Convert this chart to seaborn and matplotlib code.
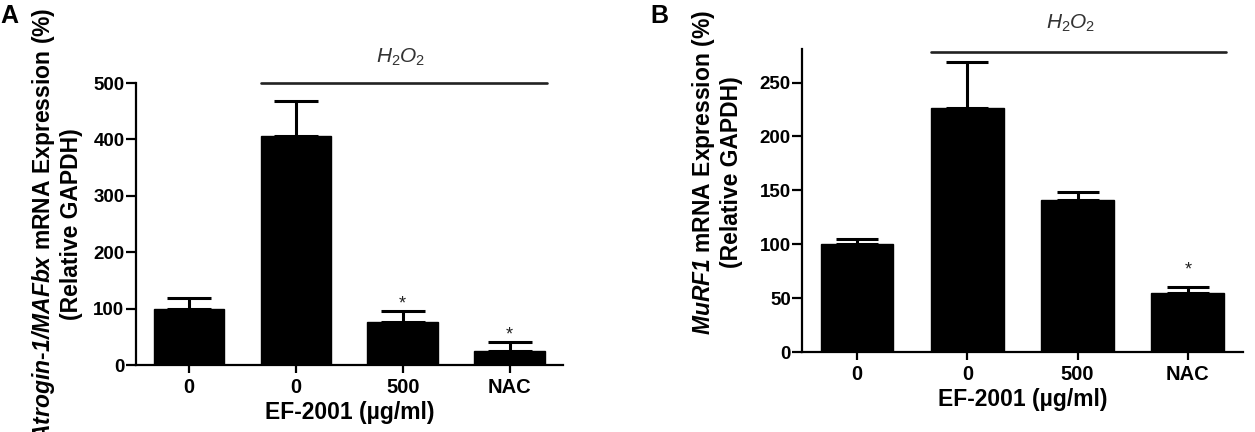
import matplotlib
matplotlib.use("Agg")
import matplotlib.pyplot as plt
import seaborn as sns
import numpy as np
import pandas as pd

# ---- data ----
groups = ["ctrl", "H2O2", "EF500", "NAC"]
tick_labels = ["0", "0", "500", "NAC"]
atrogin_mean = [100, 406, 77, 25]
atrogin_sem = [19, 62, 19, 16]
atrogin_sig = [False, False, True, True]
murf1_mean = [100, 226, 141, 55]
murf1_sem = [5, 43, 7, 5]
murf1_sig = [False, False, False, True]

sns.set_theme(style="ticks")
plt.rcParams['font.family'] = ['Liberation Sans', 'DejaVu Sans']
plt.rcParams['font.weight'] = 'bold'
plt.rcParams['axes.labelweight'] = 'bold'
plt.rcParams['text.color'] = 'black'
plt.rcParams['axes.labelcolor'] = 'black'
plt.rcParams['xtick.color'] = 'black'
plt.rcParams['ytick.color'] = 'black'
plt.rcParams['mathtext.fontset'] = 'custom'
plt.rcParams['mathtext.rm'] = 'Liberation Sans:weight=regular'
plt.rcParams['mathtext.it'] = 'Liberation Sans:style=italic:weight=regular'
plt.rcParams['mathtext.bf'] = 'Liberation Sans:weight=bold'
plt.rcParams['mathtext.bfit'] = 'Liberation Sans:style=italic:weight=bold'

fig = plt.figure(figsize=(12.55, 4.32), dpi=100)
axA = fig.add_axes([0.108, 0.155, 0.3406, 0.6528])
axB = fig.add_axes([0.639, 0.185, 0.3514, 0.7014])

def panel(ax, means, sems, sig, ylim, yticks, ylabel, line_y, text_x, text_y,
          star_off, capsize, label_xy):
    df = pd.DataFrame({"group": groups, "value": means})
    sns.barplot(data=df, x="group", y="value", order=groups, color="black",
                width=0.66, errorbar=None, ax=ax, saturation=1)
    for p in ax.patches:
        p.set_edgecolor("black")
    x = np.arange(len(groups))
    ax.errorbar(x, means, yerr=[np.zeros(len(means)), sems], fmt="none",
                ecolor="black", elinewidth=2.2, capsize=capsize, capthick=2.2, zorder=1)
    for xi, m, s, g in zip(x, means, sems, sig):
        if g:
            ax.text(xi, m + s + star_off, "*", ha="center", va="center",
                    fontsize=13, color="#222222", fontweight="normal")
    ax.set_xlim(-0.5, 3.5)
    ax.set_ylim(*ylim)
    ax.set_yticks(yticks)
    ax.set_xticks(x)
    ax.set_xticklabels(tick_labels, fontsize=14.5, fontweight="bold")
    ax.tick_params(axis="y", labelsize=13.5, width=1.6, length=7, pad=1)
    ax.tick_params(axis="x", labelsize=14.5, width=1.6, length=6, pad=3)
    for lab in ax.get_yticklabels():
        lab.set_fontweight("bold")
    sns.despine(ax=ax)
    for sp in ["left", "bottom"]:
        ax.spines[sp].set_linewidth(1.6)
        ax.spines[sp].set_color("black")
    ax.set_xlabel("EF-2001 (µg/ml)", fontsize=16.5, fontweight="bold", labelpad=3)
    ax.set_ylabel(ylabel, fontsize=16.5, fontweight="bold", linespacing=1.15)
    ax.yaxis.set_label_coords(*label_xy)
    ax.plot([0.67, 3.35], [line_y, line_y], color="#222222", lw=1.9, clip_on=False)
    ax.text(text_x, text_y, r"$\mathit{H_{2}O_{2}}$", ha="center", va="center",
            fontsize=15, color="#333333", fontweight="normal")

panel(axA, atrogin_mean, atrogin_sem, atrogin_sig, (0, 500), [0, 100, 200, 300, 400, 500],
      r"$\mathbfit{Atrogin}$-$\mathbfit{1/MAFbx}$ mRNA Expression (%)" + "\n(Relative GAPDH)",
      500, 1.98, 546, 12, 16, (-0.123, 0.5))
panel(axB, murf1_mean, murf1_sem, murf1_sig, (0, 281), [0, 50, 100, 150, 200, 250],
      r"$\mathbfit{MuRF1}$ mRNA Expression (%)" + "\n(Relative GAPDH)",
      278.5, 1.94, 305, 16, 15, (-0.134, 0.594))

fig.text(0.0, 0.963, "A", fontsize=18, fontweight="bold", va="center", ha="left")
fig.text(0.518, 0.963, "B", fontsize=18, fontweight="bold", va="center", ha="left")

fig.savefig("out.png", dpi=100)
